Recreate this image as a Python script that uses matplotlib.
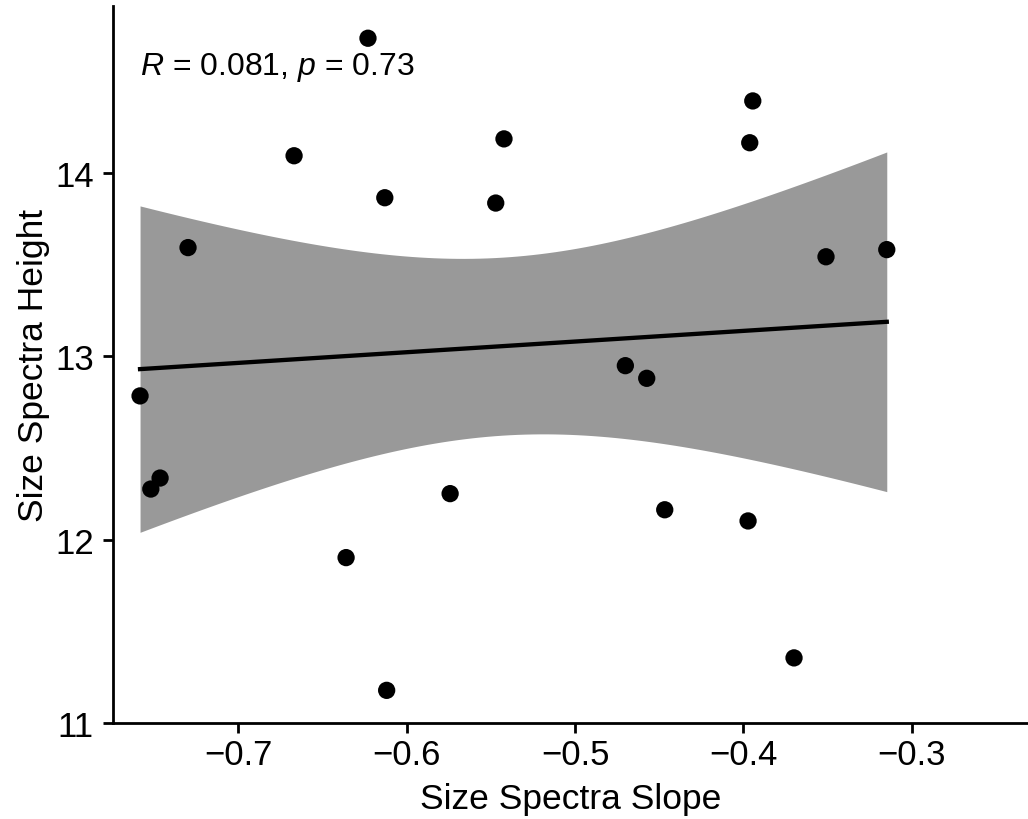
import numpy as np
import matplotlib
matplotlib.use("Agg")
import matplotlib.pyplot as plt

plt.rcParams['font.family'] = ['Liberation Sans', 'DejaVu Sans']
plt.rcParams['mathtext.fontset'] = 'custom'
plt.rcParams['mathtext.rm'] = 'Liberation Sans'
plt.rcParams['mathtext.it'] = 'Liberation Sans:italic'

# size spectra slope vs height
slope = [-0.7584, -0.7520, -0.7465, -0.7299, -0.6669, -0.6360, -0.6230,
         -0.6130, -0.6119, -0.5742, -0.5471, -0.5422, -0.4701, -0.4574,
         -0.4467, -0.3972, -0.3962, -0.3944, -0.3699, -0.3509, -0.3148]
height = [12.784, 12.276, 12.336, 13.593, 14.094, 11.902, 14.735,
          13.865, 11.178, 12.251, 13.836, 14.186, 12.949, 12.880,
          12.163, 12.102, 14.165, 14.393, 11.355, 13.543, 13.582]

x = np.array(slope)
y = np.array(height)

# linear fit with 95% confidence band
n = len(x)
b, a = np.polyfit(x, y, 1)
resid = y - (a + b * x)
s = np.sqrt(np.sum(resid**2) / (n - 2))
t_crit = 2.093  # t(0.975, df=19)
xs = np.linspace(x.min(), x.max(), 100)
fit = a + b * xs
se = s * np.sqrt(1.0 / n + (xs - x.mean())**2 / np.sum((x - x.mean())**2))

fig = plt.figure(figsize=(10.28, 8.2), dpi=100)
ax = fig.add_axes([0.1102, 0.1171, 0.8898, 0.8744])

ax.fill_between(xs, fit - t_crit * se, fit + t_crit * se, color='#999999', lw=0, zorder=1)
ax.plot(xs, fit, color='black', lw=3.1, zorder=2)
ax.scatter(x, y, s=155, color='black', edgecolor='none', zorder=3)

ax.text(-0.7584, 14.54, r'$R$ = 0.081, $p$ = 0.73', fontsize=23, va='baseline', ha='left')

ax.set_xlim(-0.7743, -0.2309)
ax.set_ylim(11.0, 14.911)
ax.set_xticks([-0.7, -0.6, -0.5, -0.4, -0.3])
ax.set_xticklabels(['\u22120.7', '\u22120.6', '\u22120.5', '\u22120.4', '\u22120.3'])
ax.set_yticks([11, 12, 13, 14])

for side in ['top', 'right']:
    ax.spines[side].set_visible(False)
for side in ['left', 'bottom']:
    ax.spines[side].set_linewidth(2)

ax.tick_params(axis='both', width=2, length=7, labelsize=25, color='black')
ax.tick_params(axis='x', pad=4)
ax.tick_params(axis='y', pad=7)

ax.set_xlabel('Size Spectra Slope', fontsize=25.5, labelpad=8)
ax.set_ylabel('Size Spectra Height', fontsize=25.5, labelpad=4)

plt.savefig('out.png', dpi=100)
